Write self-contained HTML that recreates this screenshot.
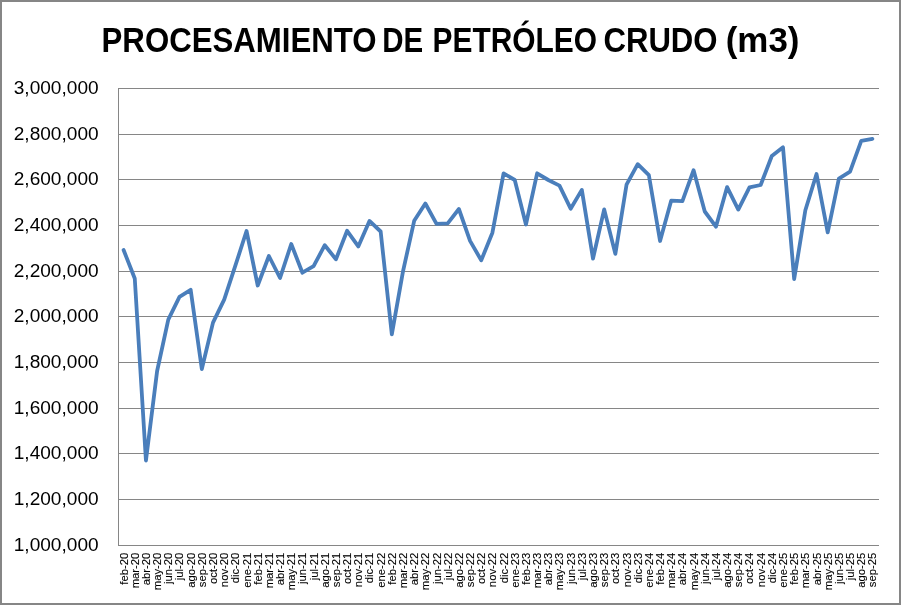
<!DOCTYPE html>
<html><head><meta charset="utf-8"><style>
html,body{margin:0;padding:0;background:#fff;}
svg{display:block;will-change:transform;}
text{font-family:"Liberation Sans",sans-serif;}
</style></head><body>
<svg width="901" height="605" viewBox="0 0 901 605">
<rect x="0" y="0" width="901" height="605" fill="#fff"/>
<rect x="1" y="1" width="899" height="603" fill="none" stroke="#868686" stroke-width="2"/>
<g font-size="35.5" font-weight="bold" fill="#000"><text transform="translate(101.54,52.3) scale(0.8793,1)">PROCESAMIENTO</text><text transform="translate(382.24,52.3) scale(0.8304,1)">DE</text><text transform="translate(432.62,52.3) scale(0.8417,1)">PETRÓLEO</text><text transform="translate(603.42,52.3) scale(0.8773,1)">CRUDO</text><text transform="translate(725.73,52.3) scale(0.9845,1)">(m3)</text></g>
<g stroke="#868686" stroke-width="1" shape-rendering="crispEdges"><line x1="118" y1="88.5" x2="879" y2="88.5"/><line x1="118" y1="134.5" x2="879" y2="134.5"/><line x1="118" y1="179.5" x2="879" y2="179.5"/><line x1="118" y1="225.5" x2="879" y2="225.5"/><line x1="118" y1="271.5" x2="879" y2="271.5"/><line x1="118" y1="316.5" x2="879" y2="316.5"/><line x1="118" y1="362.5" x2="879" y2="362.5"/><line x1="118" y1="408.5" x2="879" y2="408.5"/><line x1="118" y1="453.5" x2="879" y2="453.5"/><line x1="118" y1="499.5" x2="879" y2="499.5"/>
<line x1="118.5" y1="88" x2="118.5" y2="546"/>
<line x1="118" y1="545.5" x2="879" y2="545.5"/>
</g>
<g font-size="18.3" text-anchor="end" fill="#000"><text x="0" y="0" transform="translate(98.6,94.2) scale(1.043,1)">3,000,000</text><text x="0" y="0" transform="translate(98.6,140.2) scale(1.043,1)">2,800,000</text><text x="0" y="0" transform="translate(98.6,185.2) scale(1.043,1)">2,600,000</text><text x="0" y="0" transform="translate(98.6,231.2) scale(1.043,1)">2,400,000</text><text x="0" y="0" transform="translate(98.6,277.2) scale(1.043,1)">2,200,000</text><text x="0" y="0" transform="translate(98.6,322.2) scale(1.043,1)">2,000,000</text><text x="0" y="0" transform="translate(98.6,368.2) scale(1.043,1)">1,800,000</text><text x="0" y="0" transform="translate(98.6,414.2) scale(1.043,1)">1,600,000</text><text x="0" y="0" transform="translate(98.6,459.2) scale(1.043,1)">1,400,000</text><text x="0" y="0" transform="translate(98.6,505.2) scale(1.043,1)">1,200,000</text><text x="0" y="0" transform="translate(98.6,551.2) scale(1.043,1)">1,000,000</text></g>
<g font-size="11.5" text-anchor="end" fill="#000" stroke="#000" stroke-width="0.1"><text transform="translate(127.59,552.7) rotate(-90) scale(0.98,1)">feb-20</text><text transform="translate(138.76,552.7) rotate(-90) scale(0.98,1)">mar-20</text><text transform="translate(149.94,552.7) rotate(-90) scale(0.98,1)">abr-20</text><text transform="translate(161.12,552.7) rotate(-90) scale(0.98,1)">may-20</text><text transform="translate(172.29,552.7) rotate(-90) scale(0.98,1)">jun-20</text><text transform="translate(183.47,552.7) rotate(-90) scale(0.98,1)">jul-20</text><text transform="translate(194.65,552.7) rotate(-90) scale(0.98,1)">ago-20</text><text transform="translate(205.82,552.7) rotate(-90) scale(0.98,1)">sep-20</text><text transform="translate(217.00,552.7) rotate(-90) scale(0.98,1)">oct-20</text><text transform="translate(228.18,552.7) rotate(-90) scale(0.98,1)">nov-20</text><text transform="translate(239.35,552.7) rotate(-90) scale(0.98,1)">dic-20</text><text transform="translate(250.53,552.7) rotate(-90) scale(0.98,1)">ene-21</text><text transform="translate(261.71,552.7) rotate(-90) scale(0.98,1)">feb-21</text><text transform="translate(272.88,552.7) rotate(-90) scale(0.98,1)">mar-21</text><text transform="translate(284.06,552.7) rotate(-90) scale(0.98,1)">abr-21</text><text transform="translate(295.24,552.7) rotate(-90) scale(0.98,1)">may-21</text><text transform="translate(306.41,552.7) rotate(-90) scale(0.98,1)">jun-21</text><text transform="translate(317.59,552.7) rotate(-90) scale(0.98,1)">jul-21</text><text transform="translate(328.76,552.7) rotate(-90) scale(0.98,1)">ago-21</text><text transform="translate(339.94,552.7) rotate(-90) scale(0.98,1)">sep-21</text><text transform="translate(351.12,552.7) rotate(-90) scale(0.98,1)">oct-21</text><text transform="translate(362.29,552.7) rotate(-90) scale(0.98,1)">nov-21</text><text transform="translate(373.47,552.7) rotate(-90) scale(0.98,1)">dic-21</text><text transform="translate(384.65,552.7) rotate(-90) scale(0.98,1)">ene-22</text><text transform="translate(395.82,552.7) rotate(-90) scale(0.98,1)">feb-22</text><text transform="translate(407.00,552.7) rotate(-90) scale(0.98,1)">mar-22</text><text transform="translate(418.18,552.7) rotate(-90) scale(0.98,1)">abr-22</text><text transform="translate(429.35,552.7) rotate(-90) scale(0.98,1)">may-22</text><text transform="translate(440.53,552.7) rotate(-90) scale(0.98,1)">jun-22</text><text transform="translate(451.71,552.7) rotate(-90) scale(0.98,1)">jul-22</text><text transform="translate(462.88,552.7) rotate(-90) scale(0.98,1)">ago-22</text><text transform="translate(474.06,552.7) rotate(-90) scale(0.98,1)">sep-22</text><text transform="translate(485.24,552.7) rotate(-90) scale(0.98,1)">oct-22</text><text transform="translate(496.41,552.7) rotate(-90) scale(0.98,1)">nov-22</text><text transform="translate(507.59,552.7) rotate(-90) scale(0.98,1)">dic-22</text><text transform="translate(518.76,552.7) rotate(-90) scale(0.98,1)">ene-23</text><text transform="translate(529.94,552.7) rotate(-90) scale(0.98,1)">feb-23</text><text transform="translate(541.12,552.7) rotate(-90) scale(0.98,1)">mar-23</text><text transform="translate(552.29,552.7) rotate(-90) scale(0.98,1)">abr-23</text><text transform="translate(563.47,552.7) rotate(-90) scale(0.98,1)">may-23</text><text transform="translate(574.65,552.7) rotate(-90) scale(0.98,1)">jun-23</text><text transform="translate(585.82,552.7) rotate(-90) scale(0.98,1)">jul-23</text><text transform="translate(597.00,552.7) rotate(-90) scale(0.98,1)">ago-23</text><text transform="translate(608.18,552.7) rotate(-90) scale(0.98,1)">sep-23</text><text transform="translate(619.35,552.7) rotate(-90) scale(0.98,1)">oct-23</text><text transform="translate(630.53,552.7) rotate(-90) scale(0.98,1)">nov-23</text><text transform="translate(641.71,552.7) rotate(-90) scale(0.98,1)">dic-23</text><text transform="translate(652.88,552.7) rotate(-90) scale(0.98,1)">ene-24</text><text transform="translate(664.06,552.7) rotate(-90) scale(0.98,1)">feb-24</text><text transform="translate(675.24,552.7) rotate(-90) scale(0.98,1)">mar-24</text><text transform="translate(686.41,552.7) rotate(-90) scale(0.98,1)">abr-24</text><text transform="translate(697.59,552.7) rotate(-90) scale(0.98,1)">may-24</text><text transform="translate(708.76,552.7) rotate(-90) scale(0.98,1)">jun-24</text><text transform="translate(719.94,552.7) rotate(-90) scale(0.98,1)">jul-24</text><text transform="translate(731.12,552.7) rotate(-90) scale(0.98,1)">ago-24</text><text transform="translate(742.29,552.7) rotate(-90) scale(0.98,1)">sep-24</text><text transform="translate(753.47,552.7) rotate(-90) scale(0.98,1)">oct-24</text><text transform="translate(764.65,552.7) rotate(-90) scale(0.98,1)">nov-24</text><text transform="translate(775.82,552.7) rotate(-90) scale(0.98,1)">dic-24</text><text transform="translate(787.00,552.7) rotate(-90) scale(0.98,1)">ene-25</text><text transform="translate(798.18,552.7) rotate(-90) scale(0.98,1)">feb-25</text><text transform="translate(809.35,552.7) rotate(-90) scale(0.98,1)">mar-25</text><text transform="translate(820.53,552.7) rotate(-90) scale(0.98,1)">abr-25</text><text transform="translate(831.71,552.7) rotate(-90) scale(0.98,1)">may-25</text><text transform="translate(842.88,552.7) rotate(-90) scale(0.98,1)">jun-25</text><text transform="translate(854.06,552.7) rotate(-90) scale(0.98,1)">jul-25</text><text transform="translate(865.24,552.7) rotate(-90) scale(0.98,1)">ago-25</text><text transform="translate(876.41,552.7) rotate(-90) scale(0.98,1)">sep-25</text></g>
<polyline points="123.59,250.00 134.76,278.50 145.94,460.50 157.12,371.00 168.29,319.60 179.47,296.80 190.65,289.80 201.82,369.00 213.00,322.60 224.18,299.60 235.35,265.70 246.53,231.00 257.71,285.50 268.88,256.00 280.06,278.00 291.24,244.00 302.41,272.70 313.59,266.20 324.76,245.20 335.94,259.30 347.12,230.80 358.29,246.40 369.47,220.90 380.65,231.50 391.82,334.40 403.00,271.40 414.18,220.80 425.35,203.50 436.53,223.80 447.71,223.30 458.88,209.00 470.06,240.90 481.24,260.30 492.41,232.70 503.59,173.30 514.76,180.00 525.94,224.50 537.12,173.30 548.29,180.00 559.47,185.60 570.65,208.70 581.82,189.90 593.00,258.60 604.18,209.40 615.35,253.90 626.53,184.70 637.71,164.20 648.88,175.20 660.06,241.00 671.24,200.60 682.41,201.20 693.59,170.20 704.76,211.50 715.94,226.70 727.12,187.10 738.29,209.60 749.47,187.30 760.65,185.00 771.82,156.00 783.00,147.30 794.18,279.00 805.35,210.30 816.53,174.00 827.71,232.40 838.88,178.60 850.06,171.60 861.24,140.90 872.41,138.90" fill="none" stroke="#4A7EBB" stroke-width="3.8" stroke-linejoin="round" stroke-linecap="round"/>
</svg>
</body></html>
